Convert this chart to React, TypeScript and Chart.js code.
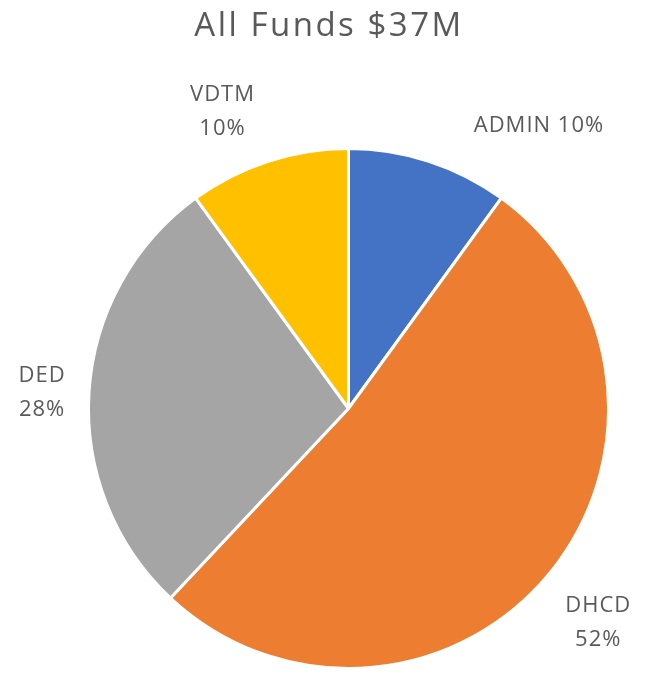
import React, { useEffect, useRef } from "react";
import { Chart, registerables } from "chart.js";

Chart.register(...registerables);

const title = "All Funds $37M";
const categories = ["ADMIN", "DHCD", "DED", "VDTM"];
const values = [10, 52, 28, 10];
const colors = ["#4472C4", "#ED7D31", "#A5A5A5", "#FFC000"];
// label placement: radial distance factor, angular shift (deg), single line flag
const labelDist = [1.31, 1.265, 1.18, 1.24];
const labelShift = [16, 1, -0.6, -5];
const labelOneLine = [true, false, false, false];

const TEXT = "#595959";
const FONT = "'Open Sans', 'Noto Sans', sans-serif";

const labelPlugin = {
  id: "outLabels",
  afterDatasetsDraw(chart: any) {
    const ctx = chart.ctx;
    const meta = chart.getDatasetMeta(0);
    ctx.save();
    ctx.fillStyle = TEXT;
    ctx.font = `22px ${FONT}`;
    (ctx as any).letterSpacing = "1px";
    ctx.textAlign = "center";
    ctx.textBaseline = "middle";
    meta.data.forEach((arc: any, i: number) => {
      const p = arc.getProps(["x", "y", "startAngle", "endAngle", "outerRadius"], true);
      const mid = (p.startAngle + p.endAngle) / 2 + (labelShift[i] * Math.PI) / 180;
      const r = p.outerRadius * labelDist[i];
      const cx = p.x + Math.cos(mid) * r;
      const cy = p.y + Math.sin(mid) * r;
      const pct = values[i] + "%";
      if (labelOneLine[i]) {
        ctx.fillText(categories[i] + " " + pct, cx, cy);
      } else {
        ctx.fillText(categories[i], cx, cy - 17);
        ctx.fillText(pct, cx, cy + 17);
      }
    });
    ctx.restore();
  },
};

const titlePlugin = {
  id: "topTitle",
  afterDraw(chart: any) {
    const ctx = chart.ctx;
    ctx.save();
    ctx.fillStyle = TEXT;
    ctx.font = `33px ${FONT}`;
    (ctx as any).letterSpacing = "2.5px";
    ctx.textAlign = "center";
    ctx.textBaseline = "alphabetic";
    ctx.fillText(title, 329, 36);
    ctx.restore();
  },
};

export default function App() {
  const ref = useRef<HTMLCanvasElement>(null);
  useEffect(() => {
    document.body.style.margin = "0";
    const chart = new Chart(ref.current!, {
      type: "pie",
      data: {
        labels: categories,
        datasets: [
          {
            data: values,
            backgroundColor: colors,
            borderColor: "#FFFFFF",
            borderWidth: 3,
          },
        ],
      },
      options: {
        animation: false,
        responsive: false,
        maintainAspectRatio: false,
        layout: { padding: { left: 87, right: 35, top: 147, bottom: 3 } },
        plugins: {
          legend: { display: false },
          tooltip: { enabled: false },
          title: { display: false },
        },
      },
      plugins: [labelPlugin, titlePlugin],
    });
    return () => chart.destroy();
  }, []);
  return (
    <div style={{ width: 645, height: 673, background: "#fff" }}>
      <canvas ref={ref} width={645} height={673} />
    </div>
  );
}
